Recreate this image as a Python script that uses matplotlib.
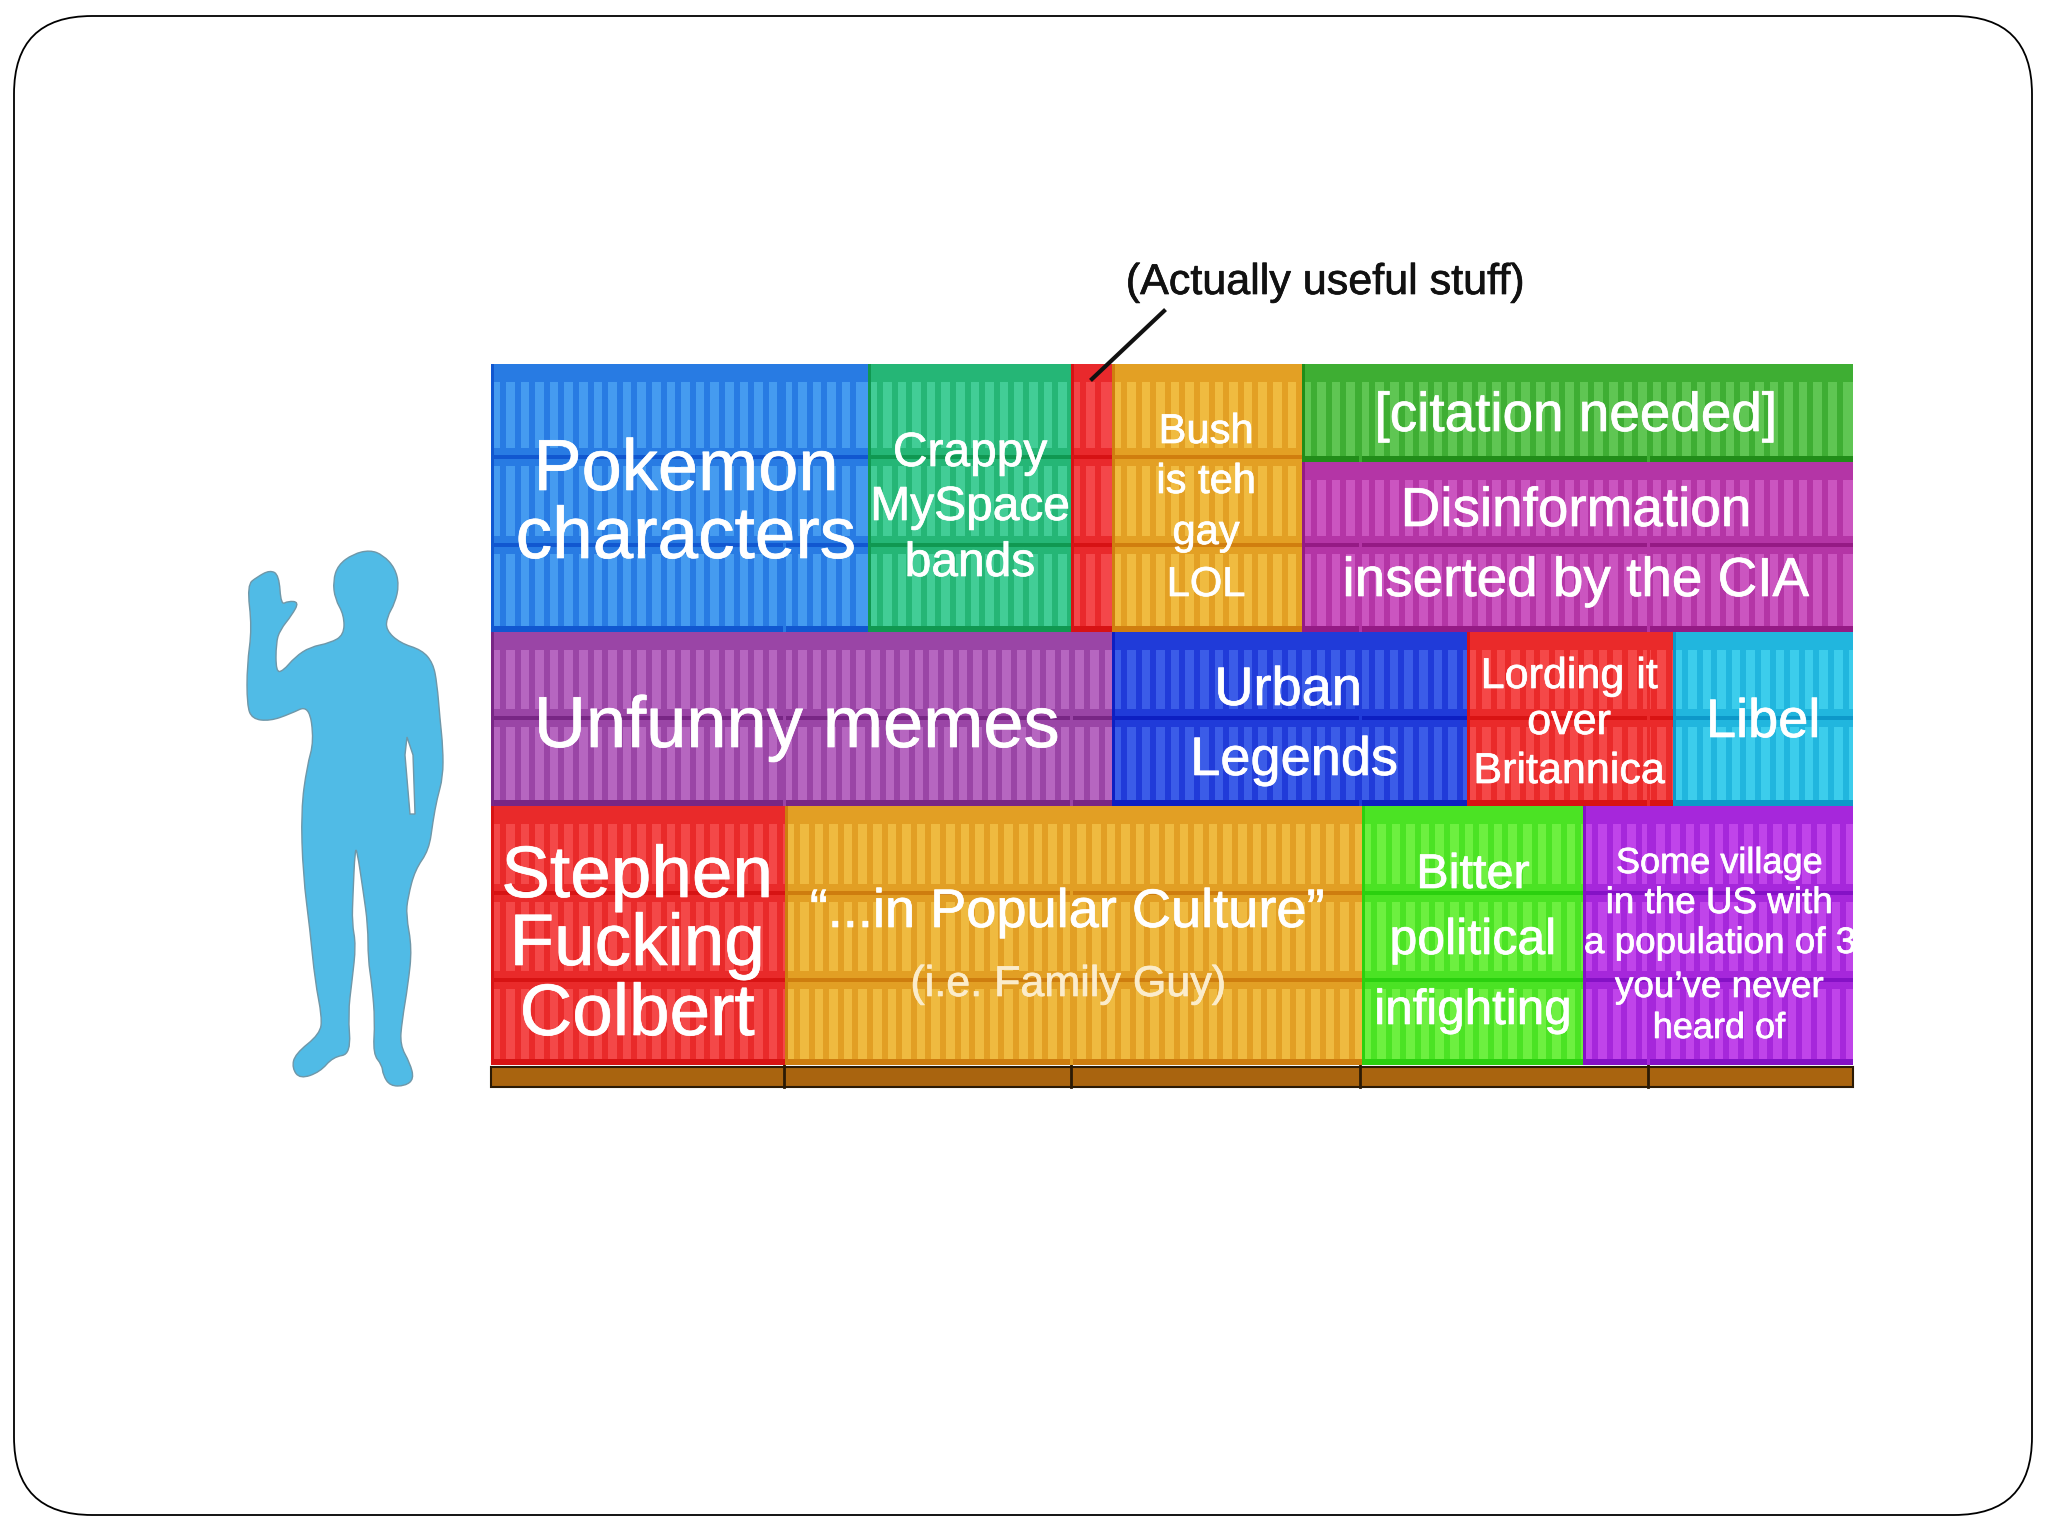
import matplotlib
matplotlib.use("Agg")
import matplotlib.pyplot as plt
from matplotlib.patches import FancyBboxPatch, PathPatch, Polygon, Rectangle
from matplotlib.path import Path
from matplotlib.colors import to_rgb
import matplotlib.patheffects as pe
import numpy as np

plt.rcParams['font.family'] = ['Liberation Sans', 'DejaVu Sans']

# blocks: left, right, top, bottom, colour, y of the middle bands
block_names = ["Pokemon", "Crappy", "Useful", "Bush", "Citation", "Disinfo",
               "Memes", "Urban", "Lording", "Libel",
               "Colbert", "Popular", "Bitter", "Village"]
block_left = [491, 868, 1071, 1112, 1302, 1302, 491, 1112, 1467, 1673, 491, 785, 1362, 1583]
block_right = [868, 1071, 1112, 1302, 1853, 1853, 1112, 1467, 1673, 1853, 785, 1362, 1583, 1853]
block_top = [364, 364, 364, 364, 364, 462, 632, 632, 632, 632, 806, 806, 806, 806]
block_bottom = [632, 632, 632, 632, 462, 632, 806, 806, 806, 806, 1065, 1065, 1065, 1065]
block_colours = ["#459bf0", "#42cd96", "#f4474a", "#f0bb40", "#5fc653", "#cb55c0",
                 "#b666c0", "#3b5ce8", "#f54848", "#3ccdec",
                 "#f44848", "#efba40", "#6df040", "#c044ea"]
block_bands = [[457, 545], [457, 545], [457, 545], [457, 545], [], [545],
               [718], [718], [718], [718],
               [893, 980], [893, 980], [893, 980], [893, 980]]

pallet_left = 491
pallet_right = 1853
pallet_top = 1067
pallet_bottom = 1087
pallet_joints = [784, 1071, 1360, 1648]

# text: string, centre x, baseline y, size, colour
label_text = ["Pokemon", "characters", "Crappy", "MySpace", "bands",
              "Bush", "is teh", "gay", "LOL",
              "[citation needed]", "Disinformation", "inserted by the CIA",
              "Unfunny memes", "Urban", "Legends",
              "Lording it", "over", "Britannica", "Libel",
              "Stephen", "Fucking", "Colbert",
              "\u201c...in Popular Culture\u201d", "(i.e. Family Guy)",
              "Bitter", "political", "infighting",
              "Some village", "in the US with", "you\u2019ve never", "heard of"]
label_x = [686, 686, 970, 970, 970,
           1206, 1206, 1206, 1206,
           1576, 1576, 1576,
           797, 1288, 1294,
           1569, 1569, 1569, 1763,
           637, 637, 637,
           1067, 1068,
           1473, 1473, 1473,
           1719, 1719, 1719, 1719]
label_y = [490, 558, 466, 520, 576,
           443, 493, 544, 596,
           431, 526, 596,
           747, 705, 775,
           688, 734, 783, 737,
           897, 965, 1035,
           927, 996,
           888, 954, 1024,
           873, 913, 997, 1038]
label_size = [52, 52.5, 34.5, 34.5, 34.5,
              30, 30, 30, 30,
              39.5, 39.5, 39.5,
              52, 39, 39,
              31, 31, 31, 39,
              52.5, 52.5, 52.5,
              39, 31,
              35, 36, 35.5,
              26, 26.5, 26.5, 26]

# outline of the person, in full size pixels
person_x = [247, 257, 270, 279, 281, 288, 299, 292, 280, 276, 276, 283, 295, 310, 330, 344,
            344, 335, 333, 338, 353, 370, 383, 395, 399, 395, 387, 386, 400, 422, 433, 437,
            440, 443, 443, 437, 433, 429, 415, 408, 406, 412, 408, 402, 400, 410, 414, 405,
            390, 383, 382, 373, 375, 372, 368, 368, 363, 357, 355, 353, 352, 356, 352, 348,
            351, 333, 320, 300, 292, 295, 320, 322, 315, 310, 303, 301, 307, 314, 309, 290,
            270, 252, 247, 247, 252]
person_y = [585, 577, 570, 575, 605, 601, 602, 615, 630, 643, 672, 671, 657, 647, 643, 635,
            615, 599, 581, 565, 554, 550, 555, 568, 585, 603, 617, 630, 643, 650, 663, 683,
            719, 748, 777, 799, 821, 850, 870, 897, 915, 948, 985, 1021, 1045, 1063, 1079, 1086,
            1086, 1075, 1065, 1054, 1021, 985, 959, 926, 890, 850, 850, 894, 923, 945, 981, 1014,
            1054, 1057, 1072, 1079, 1068, 1054, 1034, 1017, 981, 930, 875, 810, 766, 741, 705, 714,
            721, 719, 705, 665, 628]
gap_x = [407, 413, 415, 410, 405]
gap_y = [737, 755, 814, 814, 755]

fig = plt.figure(figsize=(20.48, 15.36), dpi=100)
ax = fig.add_axes([0, 0, 1, 1])
ax.set_xlim(0, 2048)
ax.set_ylim(1536, 0)
ax.axis("off")

# slide frame
ax.add_patch(FancyBboxPatch((14, 16), 2018, 1499, boxstyle="round,pad=0,rounding_size=78",
                            facecolor="white", edgecolor="black", linewidth=1.3))

# person, outline points are used as curve controls so the edge comes out round
verts = []
codes = []
n = len(person_x)
for i in range(n):
    ctrl = (person_x[i], person_y[i])
    after = (person_x[(i + 1) % n], person_y[(i + 1) % n])
    mid = ((ctrl[0] + after[0]) / 2, (ctrl[1] + after[1]) / 2)
    if i == 0:
        before = (person_x[-1], person_y[-1])
        verts.append(((before[0] + ctrl[0]) / 2, (before[1] + ctrl[1]) / 2))
        codes.append(Path.MOVETO)
    verts += [ctrl, mid]
    codes += [Path.CURVE3, Path.CURVE3]
ax.add_patch(PathPatch(Path(verts, codes), facecolor="#50bbe6", edgecolor="#6f97a8", linewidth=1))
ax.add_patch(Polygon(list(zip(gap_x, gap_y)), closed=True, facecolor="white",
                     edgecolor="#6f97a8", linewidth=1))

# containers
clip_patches = {}
for i in range(len(block_names)):
    x0, x1 = block_left[i], block_right[i]
    y0, y1 = block_top[i], block_bottom[i]
    light = np.array(to_rgb(block_colours[i]))
    dark = light ** 1.4 * 0.97
    darker = light ** 2 * 0.92
    rect = Rectangle((x0, y0), x1 - x0, y1 - y0, facecolor=light, edgecolor="none", zorder=2)
    ax.add_patch(rect)
    clip_patches[block_names[i]] = rect
    for sx in np.arange(x0 + 9, x1 - 3, 14.6):
        ax.add_patch(Rectangle((sx, y0), 6, y1 - y0, facecolor=dark, edgecolor="none", zorder=3))
    ax.add_patch(Rectangle((x0, y0), x1 - x0, 18, facecolor=dark, edgecolor="none", zorder=4))
    ax.add_patch(Rectangle((x0, y1 - 6), x1 - x0, 6, facecolor=darker, edgecolor="none", zorder=4))
    for by in block_bands[i]:
        ax.add_patch(Rectangle((x0, by - 9), x1 - x0, 18, facecolor=dark, edgecolor="none", zorder=4))
        ax.add_patch(Rectangle((x0, by - 2), x1 - x0, 4, facecolor=darker, edgecolor="none", zorder=4))
    ax.add_patch(Rectangle((x0, y0), 3, y1 - y0, facecolor=darker, edgecolor="none", zorder=4))
    for jx in pallet_joints:
        if x0 < jx - 3 and jx + 3 < x1:
            ax.add_patch(Rectangle((jx - 1.5, y0), 3, y1 - y0, facecolor=dark, edgecolor="none", zorder=4))

# pallet
ax.add_patch(Rectangle((pallet_left, pallet_top), pallet_right - pallet_left, pallet_bottom - pallet_top,
                       facecolor="#a9640f", edgecolor="#2b1a05", linewidth=1.5, zorder=2))
for jx in pallet_joints:
    ax.plot([jx, jx], [pallet_top - 2, pallet_bottom], color="#2b1a05", linewidth=2, zorder=3)

# labels, with a thin stroke since the original text is soft and heavy
for i in range(len(label_text)):
    colour = "#fbeccb" if label_text[i].startswith("(i.e.") else "white"
    t = ax.text(label_x[i], label_y[i], label_text[i], fontsize=label_size[i], color=colour,
                ha="center", va="baseline", zorder=6)
    t.set_path_effects([pe.withStroke(linewidth=0.5, foreground=colour)])

# this line runs past the edge of its block and is cut off there
cut = ax.text(1584, 953, "a population of 3", fontsize=26.5, color="white",
              ha="left", va="baseline", zorder=6)
cut.set_path_effects([pe.withStroke(linewidth=0.5, foreground="white")])
cut.set_clip_path(clip_patches["Village"])

# callout
note = ax.text(1325, 294, "(Actually useful stuff)", fontsize=31, color="#111111",
               ha="center", va="baseline", zorder=6)
note.set_path_effects([pe.withStroke(linewidth=0.5, foreground="#111111")])
ax.plot([1164, 1092], [311, 379], color="#111111", linewidth=3, zorder=6)

fig.savefig("out.png", dpi=100)
